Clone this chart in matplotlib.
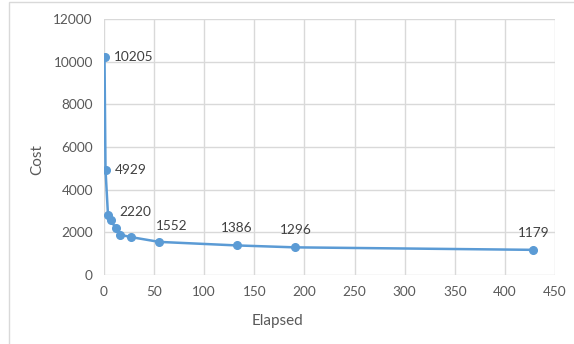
import matplotlib
matplotlib.use("Agg")
import matplotlib.pyplot as plt
from matplotlib.patches import Rectangle

plt.rcParams['font.family'] = ['Lato', 'DejaVu Sans']

elapsed = [0.5, 1.5, 4, 6.5, 11.5, 16, 26.5, 55, 132.5, 190.5, 428.5]
cost = [10205, 4929, 2790, 2560, 2220, 1890, 1780, 1552, 1386, 1296, 1179]
# which points get a value label, and where (points offset)
labelled = {0: (7, 0, 'left', 'center'), 1: (7, 0, 'left', 'center'),
            4: (3, 7, 'left', 'bottom'), 7: (-2, 7, 'left', 'bottom'),
            8: (0, 8, 'center', 'bottom'), 9: (1, 8, 'center', 'bottom'),
            10: (0, 8, 'center', 'bottom')}

fig = plt.figure(figsize=(5.74, 3.44), dpi=100)
fig.patches.append(Rectangle((9 / 574, -0.1), 1.2, 1.1 - 2 / 344, transform=fig.transFigure,
                             fill=False, edgecolor='#d9d9d9', linewidth=1))
ax = fig.add_axes([104 / 574, 1 - 275 / 344, (555 - 104) / 574, (275 - 19) / 344])

ax.plot(elapsed, cost, color='#5b9bd5', linewidth=1.8, marker='o', markersize=5.5, zorder=3)
for i, (dx, dy, ha, va) in labelled.items():
    ax.annotate(str(cost[i]), (elapsed[i], cost[i]), xytext=(dx, dy), textcoords='offset points',
                ha=ha, va=va, fontsize=9.8, color='#404040')

ax.set_xlim(0, 450)
ax.set_ylim(0, 12000)
ax.set_xticks(range(0, 451, 50))
ax.set_yticks(range(0, 12001, 2000))
ax.grid(True, color='#d9d9d9', linewidth=1)
ax.set_axisbelow(True)
for s in ax.spines.values():
    s.set_visible(False)
ax.tick_params(length=0, labelsize=9.8, labelcolor='#595959', pad=8)
ax.set_xlabel('Elapsed', fontsize=11, color='#595959')
ax.set_ylabel('Cost', fontsize=11, color='#595959')
ax.xaxis.set_label_coords(0.385, -0.18)
ax.yaxis.set_label_coords(-0.149, 0.449)
ax.xaxis.label.set_va('center')
ax.yaxis.label.set_va('center')

fig.savefig('out.png', dpi=100)
